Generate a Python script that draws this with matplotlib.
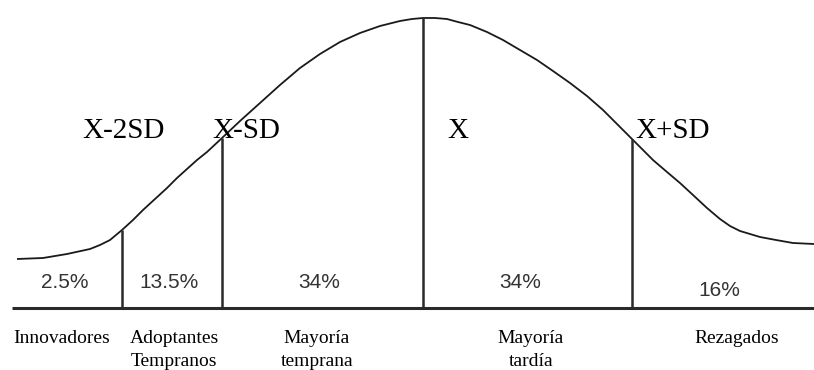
import matplotlib
matplotlib.use("Agg")
import matplotlib.pyplot as plt
import numpy as np

# bell curve: horizontal position and height above the baseline
curve_x = [17, 43, 67, 90, 100, 110, 122, 133, 143, 155, 167, 177, 187, 197, 207,
           222, 240, 260, 280, 300, 320, 340, 360, 380, 400, 412, 423, 435, 447,
           458, 470, 487, 503, 520, 537, 553, 570, 587, 603, 617, 632, 653, 667,
           680, 693, 707, 720, 730, 740, 750, 760, 776, 793, 814]
curve_h = [49, 50, 54, 59, 63, 68, 78, 88, 98, 109, 120, 130, 139, 148, 156,
           170, 187, 205, 223, 240, 254, 266, 275, 282, 287, 289, 290, 290, 289,
           286, 283, 276, 268, 258, 248, 237, 225, 212, 198, 184, 169, 148, 136,
           125, 113, 100, 89, 82, 77, 74, 71, 68, 65, 64]

# segment borders and labels
borders = [122, 222, 423, 632]
pct_labels = ["2.5%", "13.5%", "34%", "34%", "16%"]
pct_x = [65, 169, 319, 520, 719]
pct_h = [26, 26, 26, 26, 18]
group_labels = ["Innovadores", "Adoptantes\nTempranos", "Mayoría\ntemprana",
                "Mayoría\ntardía", "Rezagados"]
group_x = [62, 174, 317, 531, 737]
sd_labels = ["X-2SD", "X-SD", "X", "X+SD"]
sd_x = [82, 212, 447, 635]
sd_h = [170, 170, 170, 170]

baseline_y = 308

fig = plt.figure(figsize=(8.14, 3.70), dpi=100)
ax = fig.add_axes([0, 0, 1, 1])
ax.set_xlim(0, 814)
ax.set_ylim(baseline_y - 370, baseline_y)
ax.axis("off")

ax.plot(curve_x, curve_h, color="#1a1a1a", lw=1.3, solid_capstyle="butt")
ax.plot([12, 814], [0, 0], color="#2a2a2a", lw=2.2, solid_capstyle="butt")

tops = np.interp(borders, curve_x, curve_h)
ax.vlines(borders, 0, tops, color="#2a2a2a", lw=1.8)

for lab, x, h in zip(pct_labels, pct_x, pct_h):
    ax.text(x, h, lab, ha="center", va="center", fontsize=15,
            family="Liberation Sans", color="#333333")

for lab, x in zip(group_labels, group_x):
    ax.text(x, -22, lab, ha="center", va="top", fontsize=14,
            family="Liberation Serif", color="black", linespacing=1.45)

for lab, x, h in zip(sd_labels, sd_x, sd_h):
    ax.text(x, h, lab, ha="left", va="baseline", fontsize=21,
            family="Liberation Serif", color="black")

fig.savefig("out.png", dpi=100, facecolor="white")
